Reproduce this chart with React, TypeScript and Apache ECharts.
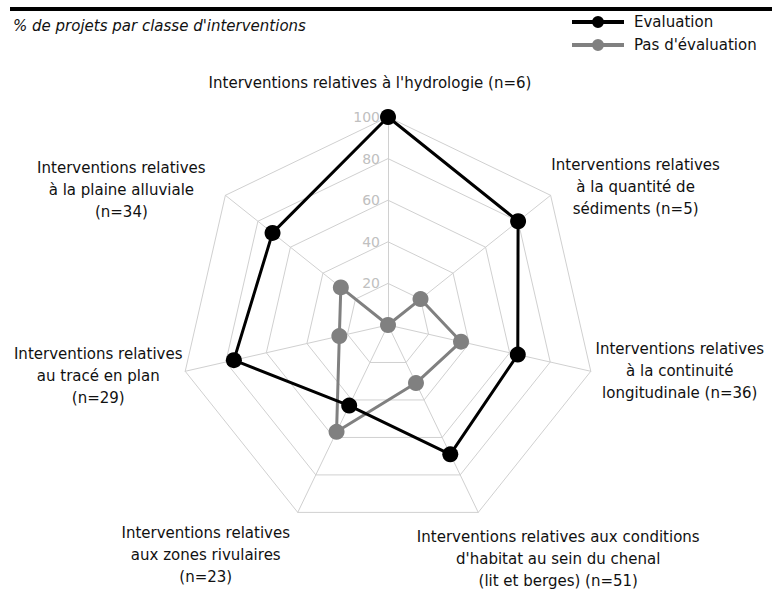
import React, { useEffect, useRef } from 'react';
import * as echarts from 'echarts';

// ---- data ----
const titleText = "% de projets par classe d'interventions";
const indicatorNames = [
  "Interventions relatives à l'hydrologie (n=6)",
  "Interventions relatives\nà la plaine alluviale\n(n=34)",
  "Interventions relatives\nau tracé en plan\n(n=29)",
  "Interventions relatives\naux zones rivulaires\n(n=23)",
  "Interventions relatives aux conditions\nd'habitat au sein du chenal\n(lit et berges) (n=51)",
  "Interventions relatives\nà la continuité\nlongitudinale (n=36)",
  "Interventions relatives\nà la quantité de\nsédiments (n=5)",
];
const evaluation = [100, 71, 76, 43, 69, 64, 80];
const pasEvaluation = [0, 29, 24, 57, 31, 36, 20];
const seriesNames = ['Evaluation', "Pas d'évaluation"];
const axisMax = 100;
const axisSplits = 5;

// ---- styling ----
const FONT = '"DejaVu Sans", sans-serif';
// offset of each name block centre from its axis end (dx, dy)
const nameOffsets: [number, number][] = [
  [-18, -34],
  [-104, -5],
  [-87, 5],
  [-92, 43],
  [80, 47],
  [89, 0],
  [85, -8],
];
const legendIcon =
  'path://M0,4 L52,4 L52,8 L0,8 Z M32,6 A6,6 0 1 1 20,6 A6,6 0 1 1 32,6 Z';

function paddingFor([dx, dy]: [number, number]) {
  const t = dy > 0 ? 2 * dy : 0;
  const b = dy < 0 ? -2 * dy : 0;
  const l = dx > 0 ? 2 * dx : 0;
  const r = dx < 0 ? -2 * dx : 0;
  return [t, r, b, l];
}

export default function App() {
  const ref = useRef<HTMLDivElement>(null);
  useEffect(() => {
    if (!ref.current) return;
    const chart = echarts.init(ref.current, null, { renderer: 'svg' });
    const indicator = indicatorNames.map((name, i) => {
      const ind: any = {
        name,
        min: 0,
        max: axisMax,
        nameGap: 0,
        nameTextStyle: { padding: paddingFor(nameOffsets[i]) },
      };
      if (i === 0) {
        ind.axisLabel = {
          show: true,
          color: '#c0c0c0',
          fontSize: 14,
          fontFamily: FONT,
          margin: 8,
          padding: [0, 0, 5, 0],
          showMinLabel: false,
        };
      }
      return ind;
    });
    chart.setOption({
      animation: false,
      backgroundColor: '#ffffff',
      textStyle: { fontFamily: FONT },
      title: {
        text: titleText,
        left: 8,
        top: 13,
        textStyle: {
          fontFamily: FONT,
          fontStyle: 'italic',
          fontWeight: 'normal',
          fontSize: 15,
          color: '#111111',
        },
      },
      graphic: [
        {
          type: 'rect',
          left: 10,
          top: 7,
          shape: { width: 762, height: 4 },
          style: { fill: '#000000' },
        },
      ],
      legend: {
        orient: 'vertical',
        left: 567,
        top: 8,
        itemWidth: 52,
        itemHeight: 12,
        itemGap: 5,
        textStyle: {
          fontFamily: FONT,
          fontSize: 15,
          lineHeight: 18,
          color: '#111111',
          padding: [0, 0, 0, 5],
        },
        data: [
          { name: seriesNames[0], icon: legendIcon, itemStyle: { color: '#000000' } },
          { name: seriesNames[1], icon: legendIcon, itemStyle: { color: '#808080' } },
        ],
      },
      radar: {
        center: [388, 325],
        radius: 208,
        startAngle: 90,
        splitNumber: axisSplits,
        shape: 'polygon',
        axisNameGap: 0,
        axisName: {
          show: true,
          align: 'center',
          verticalAlign: 'middle',
          color: '#111111',
          fontSize: 15,
          fontFamily: FONT,
          formatter: (name: string) =>
            name
              .split('\n')
              .map((l) => `{c|${l}}`)
              .join('\n'),
          rich: {
            c: {
              align: 'center',
              fontSize: 15,
              lineHeight: 22,
              color: '#111111',
              fontFamily: FONT,
            },
          },
        },
        axisLine: { show: true, lineStyle: { color: '#d0d0d0', width: 1 } },
        splitLine: { show: true, lineStyle: { color: '#d0d0d0', width: 1 } },
        splitArea: { show: false },
        axisTick: { show: false },
        axisLabel: { show: false },
        indicator,
      },
      series: [
        {
          type: 'radar',
          symbol: 'circle',
          symbolSize: 16,
          data: [
            {
              name: seriesNames[1],
              value: pasEvaluation,
              lineStyle: { color: '#808080', width: 3 },
              itemStyle: { color: '#808080' },
            },
            {
              name: seriesNames[0],
              value: evaluation,
              lineStyle: { color: '#000000', width: 3 },
              itemStyle: { color: '#000000' },
            },
          ],
        },
      ],
    });
    return () => chart.dispose();
  }, []);
  return (
    <div
      ref={ref}
      style={{ position: 'fixed', left: 0, top: 0, width: 772, height: 595, background: '#fff' }}
    />
  );
}
